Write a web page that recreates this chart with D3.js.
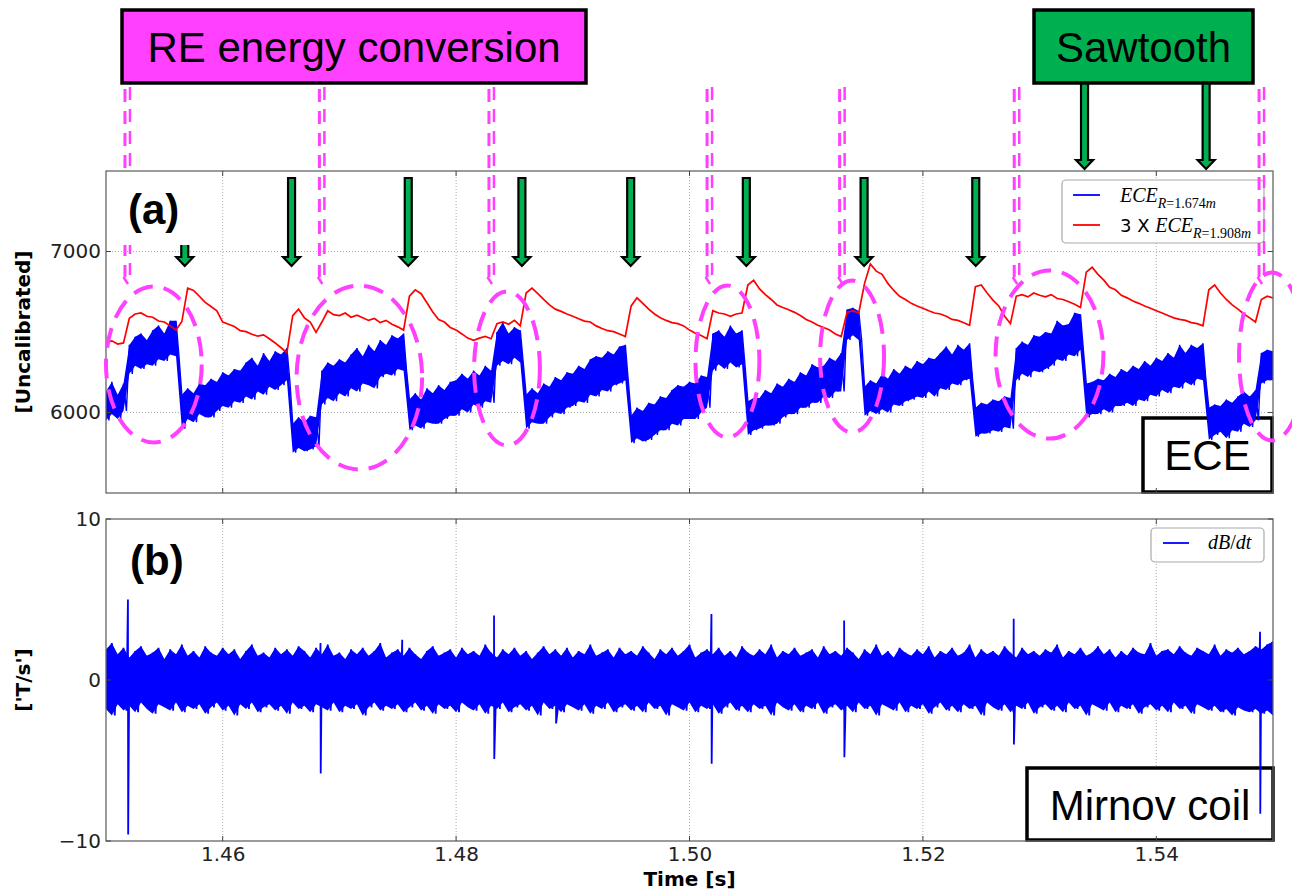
<!DOCTYPE html>
<html>
<head>
<meta charset="utf-8">
<script src="https://cdn.jsdelivr.net/npm/d3@7"></script>
<style>
body { margin: 0; background: #fff; }
svg text { font-family: "DejaVu Sans", sans-serif; }
</style>
</head>
<body>
<div id="chart"></div>
<script>
// ---- data (sampled every 0.5 ms from 1.450 s) ----
var t0 = 1.45, dt = 0.0005;

// ECE R=1.674m : upper / lower excursion of the noisy trace in each sample
var ece1Hi = [6130,6190,6110,6180,6420,6470,6490,6450,6510,6540,
 6490,6570,6570,6110,6150,6120,6180,6170,6210,6190,
 6250,6230,6270,6260,6310,6340,6290,6370,6320,6380,
 6360,6400,5930,5970,5940,5980,5970,6260,6310,6290,
 6330,6310,6360,6400,6350,6420,6380,6450,6420,6480,
 6460,6490,6080,6120,6080,6150,6120,6170,6140,6190,
 6200,6240,6210,6260,6230,6290,6260,6500,6560,6490,
 6530,6510,6110,6150,6120,6180,6160,6220,6200,6250,
 6240,6290,6270,6330,6350,6340,6380,6360,6410,6420,
 5980,6030,6010,6060,6050,6100,6090,6140,6170,6160,
 6190,6180,6230,6220,6490,6510,6470,6540,6490,6510,
 6070,6090,6090,6140,6120,6180,6160,6210,6190,6250,
 6230,6300,6280,6290,6340,6320,6370,6640,6650,6630,
 6160,6200,6180,6240,6210,6270,6240,6290,6270,6320,
 6300,6340,6330,6370,6410,6360,6420,6390,6430,6030,
 6060,6050,6080,6070,6100,6090,6400,6440,6420,6480,
 6470,6500,6490,6570,6540,6550,6620,6610,6180,6190,
 6210,6200,6240,6220,6270,6250,6290,6270,6320,6290,
 6340,6320,6370,6340,6420,6370,6420,6400,6430,6030,
 6050,6040,6080,6060,6100,6130,6100,6140,6370,6390,
 6380];
var ece1Lo = [5950,5990,5960,6010,6240,6290,6270,6300,6290,6330,
 6320,6360,6350,5900,5960,5940,5990,5970,5970,6010,
 6040,6030,6070,6060,6100,6080,6130,6110,6160,6140,
 6170,6200,5750,5780,5760,5770,5790,6050,6090,6070,
 6120,6100,6150,6130,6180,6170,6150,6220,6240,6230,
 6270,6260,5890,5920,5900,5940,5930,5930,5960,5980,
 5980,6020,6000,6050,6030,6070,6060,6290,6320,6300,
 6340,6310,5900,5940,5930,5930,5970,6000,5990,6030,
 6040,6070,6060,6110,6100,6140,6130,6170,6180,6200,
 5810,5840,5820,5830,5860,5890,5890,5930,5920,5960,
 5960,5960,6000,6030,6260,6300,6270,6310,6280,6300,
 5860,5890,5900,5920,5920,5930,5970,5990,5990,6030,
 6030,6060,6060,6100,6090,6130,6130,6450,6480,6450,
 5980,6010,5990,6020,6000,6050,6040,6070,6080,6100,
 6090,6130,6100,6150,6140,6180,6170,6200,6210,5850,
 5870,5870,5890,5880,5910,5900,6200,6240,6220,6260,
 6250,6270,6290,6330,6320,6360,6350,6390,5970,5990,
 5990,6020,6000,6040,6040,6060,6040,6080,6070,6110,
 6100,6140,6120,6160,6150,6190,6170,6210,6200,5830,
 5860,5880,5840,5890,5880,5930,5910,5950,6180,6200,
 6200];

// 3 x ECE R=1.908m
var ece2 = [6435,6445,6425,6432,6585,6612,6618,6598,6592,6568,
 6562,6538,6512,6565,6772,6758,6722,6684,6658,6632,
 6562,6548,6534,6508,6502,6486,6474,6482,6458,6432,
 6402,6372,6602,6642,6588,6562,6498,6562,6632,6608,
 6602,6618,6592,6604,6588,6572,6584,6558,6572,6548,
 6532,6512,6722,6762,6738,6682,6624,6578,6562,6528,
 6512,6488,6462,6448,6462,6472,6458,6552,6562,6548,
 6572,6538,6742,6772,6738,6702,6668,6642,6628,6612,
 6598,6582,6568,6562,6538,6522,6508,6502,6488,6472,
 6662,6712,6678,6642,6612,6588,6572,6558,6552,6538,
 6512,6492,6478,6458,6632,6618,6612,6598,6612,6618,
 6792,6822,6768,6732,6702,6668,6652,6638,6622,6602,
 6578,6562,6542,6528,6512,6488,6472,6622,6632,6618,
 6802,6922,6878,6858,6802,6758,6722,6702,6678,6662,
 6648,6632,6618,6612,6598,6578,6572,6558,6542,6782,
 6792,6742,6698,6662,6598,6552,6722,6732,6718,6742,
 6728,6718,6732,6708,6702,6688,6672,6652,6872,6902,
 6858,6822,6778,6762,6728,6712,6692,6678,6662,6648,
 6632,6618,6602,6588,6578,6572,6558,6552,6538,6762,
 6792,6742,6702,6668,6642,6612,6588,6562,6702,6722,
 6712];

// Mirnov coil dB/dt : upper / lower excursion per sample
var dbHi = [1.9,2.3,1.6,2.0,1.4,1.8,2.1,1.5,1.7,2.0,
 1.3,1.9,1.6,2.2,1.5,1.8,1.4,2.1,1.7,1.5,
 2.0,1.6,1.9,1.3,1.8,2.2,1.5,1.7,1.4,2.0,
 1.6,1.9,1.5,2.1,1.8,1.4,2.0,1.6,2.2,1.5,
 1.7,1.3,1.9,1.6,2.0,1.5,1.8,2.3,1.4,1.7,
 1.9,1.5,2.0,1.6,1.3,1.8,2.1,1.5,1.7,1.9,
 1.4,2.0,1.6,1.8,1.5,2.2,1.7,1.4,1.9,1.6,
 2.0,1.5,1.8,1.3,1.7,2.1,1.6,1.9,1.5,2.0,
 1.4,1.8,1.6,2.2,1.5,1.7,1.9,1.4,2.0,1.6,
 1.8,1.5,2.1,1.7,1.3,1.9,1.6,2.0,1.5,1.8,
 2.2,1.4,1.7,1.9,1.6,2.0,1.5,1.8,1.4,2.1,
 1.7,1.5,1.9,1.6,2.2,1.4,1.8,1.6,2.0,1.5,
 1.7,1.9,1.4,2.1,1.6,1.8,1.5,2.0,1.7,1.3,
 1.9,1.6,2.2,1.5,1.8,1.4,2.0,1.7,1.5,1.9,
 1.6,2.1,1.4,1.8,1.6,2.0,1.5,1.7,2.2,1.4,
 1.9,1.6,1.8,1.5,2.1,1.7,1.4,2.0,1.6,1.8,
 1.5,1.9,1.7,2.2,1.4,1.8,1.6,2.0,1.5,1.7,
 2.1,1.6,1.9,1.4,1.8,1.5,2.0,1.7,1.6,2.3,
 1.5,1.8,1.9,1.6,2.1,1.7,1.5,2.0,1.8,1.6,
 2.2,1.5,1.9,1.7,2.0,1.6,1.8,2.1,1.9,2.2,
 2.4];
var dbLo = [-1.8,-2.2,-1.5,-1.9,-1.6,-2.0,-1.4,-1.8,-2.1,-1.5,
 -1.7,-1.9,-1.4,-2.0,-1.6,-1.8,-1.5,-2.1,-1.7,-1.4,
 -1.9,-1.6,-2.2,-1.5,-1.8,-1.4,-2.0,-1.7,-1.5,-1.9,
 -1.6,-2.1,-1.4,-1.8,-1.6,-2.0,-1.5,-1.7,-1.9,-1.4,
 -2.0,-1.6,-1.8,-1.5,-2.2,-1.7,-1.4,-1.9,-1.6,-1.8,
 -1.5,-2.0,-1.7,-1.4,-1.9,-1.6,-2.1,-1.5,-1.8,-1.6,
 -2.0,-1.4,-1.7,-1.9,-1.5,-2.1,-1.6,-1.8,-1.4,-2.0,
 -1.7,-1.5,-1.9,-1.6,-2.2,-1.4,-1.8,-1.6,-2.0,-1.5,
 -1.7,-1.9,-1.5,-2.1,-1.6,-1.8,-1.4,-2.0,-1.7,-1.5,
 -1.9,-1.6,-2.0,-1.4,-1.8,-1.6,-2.2,-1.5,-1.7,-1.9,
 -1.4,-2.0,-1.6,-1.8,-1.5,-2.1,-1.7,-1.4,-1.9,-1.6,
 -2.0,-1.5,-1.8,-1.6,-2.2,-1.4,-1.7,-1.9,-1.5,-2.0,
 -1.6,-1.8,-1.4,-2.1,-1.7,-1.5,-1.9,-1.6,-2.0,-1.4,
 -1.8,-1.6,-2.2,-1.5,-1.7,-1.9,-1.4,-2.0,-1.6,-1.8,
 -1.5,-2.1,-1.7,-1.4,-1.9,-1.6,-2.0,-1.5,-1.8,-1.6,
 -2.2,-1.4,-1.7,-1.9,-1.5,-2.0,-1.6,-1.8,-1.4,-2.1,
 -1.7,-1.5,-1.9,-1.6,-2.0,-1.4,-1.8,-1.6,-2.2,-1.5,
 -1.7,-1.9,-1.4,-2.0,-1.6,-1.8,-1.5,-2.1,-1.7,-1.5,
 -1.9,-1.6,-2.0,-1.4,-1.8,-1.6,-2.1,-1.5,-1.7,-1.9,
 -1.6,-2.0,-1.8,-2.2,-1.7,-1.9,-2.0,-1.8,-2.1,-1.9,
 -2.2];

// spikes in dB/dt
var spikeT  = [1.45188, 1.46838, 1.47538, 1.48325, 1.48855, 1.50188, 1.51325, 1.52778, 1.54889];
var spikeHi = [5.0, 2.3, 2.5, 4.0, 1.5, 4.1, 3.7, 3.8, 3.0];
var spikeLo = [-9.6, -5.8, -1.6, -4.9, -2.7, -5.2, -4.8, -4.0, -8.3];

// axes ticks
var xTicks = [1.46, 1.48, 1.50, 1.52, 1.54];
var yTicksA = [6000, 7000];
var yTicksB = [-10, 0, 10];

// annotations (data units)
var sawtoothTimes = [1.45675, 1.46590, 1.47590, 1.48564, 1.49496, 1.50487, 1.51496, 1.52453];
var sawtoothBoxTimes = [1.53385, 1.54427];
var reTimes = [1.45184, 1.46850, 1.48303, 1.50172, 1.51308, 1.52804, 1.54902];
var ellT  = [1.45410, 1.47171, 1.48436, 1.50325, 1.51393, 1.53085, 1.54991];
var ellV  = [6298, 6217, 6273, 6317, 6348, 6360, 6348];
var ellDT = [0.0041, 0.00538, 0.00282, 0.00274, 0.00274, 0.00462, 0.00282];
var ellDV = [484, 571, 478, 472, 472, 522, 522];

// ---- layout ----
var W = 1292, H = 891;
var left = 106, right = 1273;
var topA = 171, botA = 493, topB = 519, botB = 841;
var magenta = "#FF40FF", green = "#00B050";

var svg = d3.select("#chart").append("svg")
    .attr("width", W)
    .attr("height", H);
svg.append("rect").attr("width", W).attr("height", H).attr("fill", "#fff");

var x = d3.scaleLinear().domain([1.45, 1.55]).range([left, right]);
var yA = d3.scaleLinear().domain([5500, 7500]).range([botA, topA]);
var yB = d3.scaleLinear().domain([-10, 10]).range([botB, topB]);

var defs = svg.append("defs");
defs.append("clipPath").attr("id", "clipA").append("rect")
    .attr("x", left).attr("y", topA).attr("width", right - left).attr("height", botA - topA);
defs.append("clipPath").attr("id", "clipB").append("rect")
    .attr("x", left).attr("y", topB).attr("width", right - left).attr("height", botB - topB);

// grids
function grid(y, top, bot, yt) {
    var g = svg.append("g").attr("stroke", "#999").attr("stroke-width", 0.8).attr("stroke-dasharray", "1,2");
    xTicks.forEach(function (t) {
        g.append("line").attr("x1", x(t)).attr("x2", x(t)).attr("y1", top).attr("y2", bot);
    });
    yt.forEach(function (v) {
        g.append("line").attr("x1", left).attr("x2", right).attr("y1", y(v)).attr("y2", y(v));
    });
}
grid(yA, topA, botA, yTicksA);
grid(yB, topB, botB, [0]);

// label boxes below the traces
function labelBox(x0, y0, w, h, txt, base) {
    svg.append("rect")
        .attr("x", x0).attr("y", y0).attr("width", w).attr("height", h)
        .attr("fill", "#fff").attr("stroke", "#000").attr("stroke-width", 3.5);
    svg.append("text")
        .attr("x", x0 + w / 2).attr("y", base)
        .attr("text-anchor", "middle")
        .style("font-family", "'Liberation Sans', Arial, sans-serif")
        .attr("font-size", 42)
        .text(txt);
}
labelBox(1143, 418, 129, 74, "ECE", 470);
labelBox(1027, 768, 246, 72, "Mirnov coil", 820);

// ---- traces ----
var ts = function (i) { return t0 + i * dt; };

// panel (a) blue: filled noise band + zigzag edges
var areaA = d3.area()
    .x(function (d, i) { return x(ts(i)); })
    .y0(function (d, i) { return yA(ece1Lo[i]); })
    .y1(function (d) { return yA(d); });
svg.append("path")
    .attr("clip-path", "url(#clipA)")
    .attr("d", areaA(ece1Hi))
    .attr("fill", "#0000FF");

var zigA = [];
ece1Hi.forEach(function (v, i) {
    zigA.push({ t: ts(i), v: v });
    zigA.push({ t: ts(i) + dt / 2, v: ece1Lo[i] });
});
var lineA = d3.line().x(function (d) { return x(d.t); }).y(function (d) { return yA(d.v); });
svg.append("path")
    .attr("clip-path", "url(#clipA)")
    .attr("d", lineA(zigA))
    .attr("fill", "none").attr("stroke", "#0000FF").attr("stroke-width", 1.4);

svg.append("path")
    .attr("clip-path", "url(#clipA)")
    .attr("d", lineA(ece2.map(function (v, i) { return { t: ts(i), v: v }; })))
    .attr("fill", "none").attr("stroke", "#FF0000").attr("stroke-width", 1.7);

// panel (b)
var areaB = d3.area()
    .x(function (d, i) { return x(ts(i)); })
    .y0(function (d, i) { return yB(dbLo[i]); })
    .y1(function (d) { return yB(d); });
svg.append("path")
    .attr("clip-path", "url(#clipB)")
    .attr("d", areaB(dbHi))
    .attr("fill", "#0000FF");

var zigB = [];
dbHi.forEach(function (v, i) {
    zigB.push({ t: ts(i), v: v });
    zigB.push({ t: ts(i) + dt / 2, v: dbLo[i] });
});
spikeT.forEach(function (t, k) {
    zigB.push({ t: t, v: spikeHi[k] });
    zigB.push({ t: t + 0.00002, v: spikeLo[k] });
});
zigB.sort(function (a, b) { return a.t - b.t; });
var lineB = d3.line().x(function (d) { return x(d.t); }).y(function (d) { return yB(d.v); });
svg.append("path")
    .attr("clip-path", "url(#clipB)")
    .attr("d", lineB(zigB))
    .attr("fill", "none").attr("stroke", "#0000FF").attr("stroke-width", 1.8);

// ---- frames, ticks, axes ----
[[topA, botA, yA, yTicksA], [topB, botB, yB, yTicksB]].forEach(function (p) {
    svg.append("rect")
        .attr("x", left).attr("y", p[0]).attr("width", right - left).attr("height", p[1] - p[0])
        .attr("fill", "none").attr("stroke", "#666").attr("stroke-width", 1.3);
    var tk = svg.append("g").attr("stroke", "#444").attr("stroke-width", 1);
    xTicks.forEach(function (t) {
        tk.append("line").attr("x1", x(t)).attr("x2", x(t)).attr("y1", p[1]).attr("y2", p[1] - 5);
        tk.append("line").attr("x1", x(t)).attr("x2", x(t)).attr("y1", p[0]).attr("y2", p[0] + 5);
    });
    p[3].forEach(function (v) {
        tk.append("line").attr("x1", left).attr("x2", left + 5).attr("y1", p[2](v)).attr("y2", p[2](v));
        tk.append("line").attr("x1", right).attr("x2", right - 5).attr("y1", p[2](v)).attr("y2", p[2](v));
    });
});

function styleAxis(g) {
    g.select(".domain").remove();
    g.selectAll("text").attr("font-size", 20).attr("fill", "#222")
        .style("font-family", "'DejaVu Sans', sans-serif");
}
svg.append("g").attr("transform", "translate(" + left + ",0)")
    .call(d3.axisLeft(yA).tickValues(yTicksA).tickFormat(d3.format("d")).tickSize(0).tickPadding(5))
    .call(styleAxis);
svg.append("g").attr("transform", "translate(" + left + ",0)")
    .call(d3.axisLeft(yB).tickValues(yTicksB).tickFormat(d3.format("d")).tickSize(0).tickPadding(5))
    .call(styleAxis);
svg.append("g").attr("transform", "translate(0," + botB + ")")
    .call(d3.axisBottom(x).tickValues(xTicks).tickFormat(d3.format(".2f")).tickSize(0).tickPadding(6))
    .call(styleAxis);

svg.append("text")
    .attr("transform", "translate(30," + (topA + botA) / 2 + ") rotate(-90)")
    .attr("text-anchor", "middle").attr("font-size", 20).attr("font-weight", "bold")
    .text("[Uncalibrated]");
svg.append("text")
    .attr("transform", "translate(30," + (topB + botB) / 2 + ") rotate(-90)")
    .attr("text-anchor", "middle").attr("font-size", 20).attr("font-weight", "bold")
    .text("['T/s']");
svg.append("text")
    .attr("x", (left + right) / 2).attr("y", 886)
    .attr("text-anchor", "middle").attr("font-size", 20).attr("font-weight", "bold")
    .text("Time [s]");

// ---- legends ----
var serif = "'Liberation Serif', 'Times New Roman', serif";
function legendBox(x0, y0, w, h) {
    svg.append("rect")
        .attr("x", x0).attr("y", y0).attr("width", w).attr("height", h).attr("rx", 4)
        .attr("fill", "#fff").attr("fill-opacity", 0.8)
        .attr("stroke", "#aaa").attr("stroke-width", 1.2);
}
function mathECE(txt, sub) {
    txt.append("tspan").style("font-family", serif).attr("font-style", "italic").attr("font-size", 20).text("ECE");
    var s = txt.append("tspan").attr("dy", 6).attr("font-size", 14).style("font-family", serif);
    s.append("tspan").attr("font-style", "italic").text("R");
    s.append("tspan").text("=" + sub);
    s.append("tspan").attr("font-style", "italic").text("m");
}
legendBox(1062, 180, 202, 63);
svg.append("line").attr("x1", 1073).attr("x2", 1100).attr("y1", 195).attr("y2", 195)
    .attr("stroke", "#0000FF").attr("stroke-width", 1.8);
svg.append("line").attr("x1", 1073).attr("x2", 1100).attr("y1", 225).attr("y2", 225)
    .attr("stroke", "#FF0000").attr("stroke-width", 1.8);
mathECE(svg.append("text").attr("x", 1120).attr("y", 202), "1.674");
var row2 = svg.append("text").attr("x", 1120).attr("y", 232);
row2.append("tspan").attr("font-size", 18).text("3 X ");
mathECE(row2, "1.908");

legendBox(1151, 528, 113, 34);
svg.append("line").attr("x1", 1163).attr("x2", 1189).attr("y1", 543).attr("y2", 543)
    .attr("stroke", "#0000FF").attr("stroke-width", 1.8);
var dbt = svg.append("text").attr("x", 1208).attr("y", 549).attr("font-size", 20).style("font-family", serif);
dbt.append("tspan").attr("font-style", "italic").text("dB");
dbt.append("tspan").text("/");
dbt.append("tspan").attr("font-style", "italic").text("dt");

// ---- annotations ----
// dashed ellipses
ellT.forEach(function (t, k) {
    svg.append("ellipse")
        .attr("cx", x(t)).attr("cy", yA(ellV[k]))
        .attr("rx", x(t + ellDT[k]) - x(t)).attr("ry", yA(ellV[k] - ellDV[k]) - yA(ellV[k]))
        .attr("fill", "none").attr("stroke", magenta).attr("stroke-width", 4)
        .attr("stroke-dasharray", "20,11");
});

// dashed double arrows from the RE box
reTimes.forEach(function (t) {
    var cx = x(t);
    svg.append("line").attr("x1", cx - 2.5).attr("x2", cx - 2.5).attr("y1", 89).attr("y2", 277)
        .attr("stroke", magenta).attr("stroke-width", 3).attr("stroke-dasharray", "13,9");
    svg.append("line").attr("x1", cx + 2.5).attr("x2", cx + 2.5).attr("y1", 87).attr("y2", 275)
        .attr("stroke", magenta).attr("stroke-width", 2.5).attr("stroke-dasharray", "13,9");
    svg.append("path").attr("d", "M" + (cx - 4) + ",277 L" + (cx + 0.5) + ",284")
        .attr("fill", "none").attr("stroke", magenta).attr("stroke-width", 2.5);
});

// green block arrows
function blockArrow(cx, y0, tip) {
    var hw = 3.5, hh = 8.5, yh = tip - 9;
    svg.append("path")
        .attr("d", "M" + (cx - hw) + "," + y0 + "L" + (cx + hw) + "," + y0 + "L" + (cx + hw) + "," + yh +
            "L" + (cx + hh) + "," + yh + "L" + cx + "," + tip + "L" + (cx - hh) + "," + yh +
            "L" + (cx - hw) + "," + yh + "Z")
        .attr("fill", green).attr("stroke", "#000").attr("stroke-width", 2.2)
        .attr("stroke-linejoin", "miter");
}
sawtoothTimes.forEach(function (t) { blockArrow(x(t), 178, 266); });
sawtoothBoxTimes.forEach(function (t) { blockArrow(x(t), 83, 169); });

// panel labels (opaque)
svg.append("rect").attr("x", 110).attr("y", 173).attr("width", 86).attr("height", 72).attr("fill", "#fff");
svg.append("text").attr("x", 128).attr("y", 224)
    .style("font-family", "'Liberation Sans', Arial, sans-serif").attr("font-size", 42).attr("font-weight", "bold")
    .text("(a)");
svg.append("text").attr("x", 130).attr("y", 575)
    .style("font-family", "'Liberation Sans', Arial, sans-serif").attr("font-size", 42).attr("font-weight", "bold")
    .text("(b)");

// title boxes
function titleBox(x0, w, fill, txt) {
    svg.append("rect").attr("x", x0).attr("y", 10).attr("width", w).attr("height", 73)
        .attr("fill", fill).attr("stroke", "#000").attr("stroke-width", 3.5);
    svg.append("text").attr("x", x0 + w / 2).attr("y", 62).attr("text-anchor", "middle")
        .style("font-family", "'Liberation Sans', Arial, sans-serif").attr("font-size", 42)
        .text(txt);
}
titleBox(122, 464, magenta, "RE energy conversion");
titleBox(1034, 219, green, "Sawtooth");
</script>
</body>
</html>
